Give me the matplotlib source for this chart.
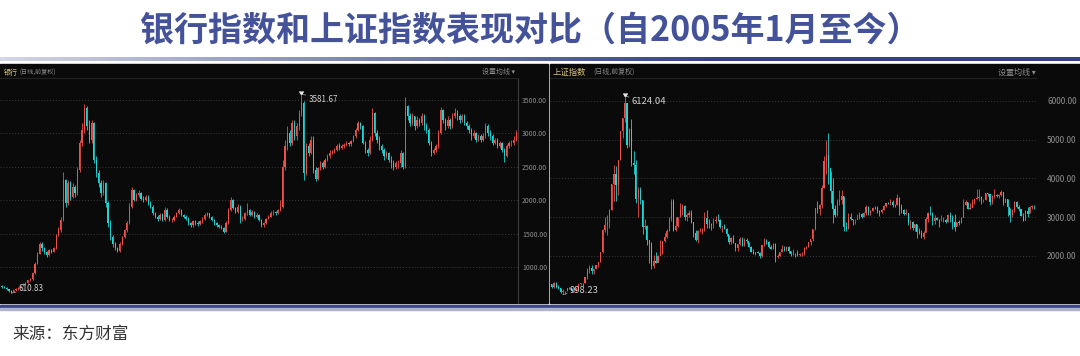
import numpy as np
import pandas as pd
import matplotlib
matplotlib.use('Agg')
import matplotlib.pyplot as plt
from matplotlib.patches import Rectangle
from matplotlib.lines import Line2D
from matplotlib.colors import LinearSegmentedColormap

plt.rcParams['font.family'] = ['Noto Sans CJK SC', 'DejaVu Sans']

# monthly candles, 2005-01 .. 2023-03
months = pd.date_range('2005-01', '2023-03', freq='MS')

# --- 银行 (bank index) ---
bank_first_open = 720
bank_close = [
    705, 690, 665, 640, 628, 650, 665, 690, 720, 740, 760, 800,
    820, 910, 1050, 1200, 1350, 1280, 1220, 1180, 1250, 1230, 1280, 1480,
    1550, 1700, 2300, 1950, 2250, 2050, 2200, 2100, 2450, 2850, 3050, 3380,
    3100, 2900, 3150, 2600, 2400, 2250, 2100, 2250, 1950, 1650, 1450, 1350,
    1280, 1240, 1350, 1450, 1550, 1650, 1900, 2150, 2000, 2080, 2100, 2020,
    2000, 2050, 1950, 1900, 1800, 1750, 1720, 1780, 1700, 1850, 1750, 1700,
    1700, 1750, 1800, 1850, 1780, 1750, 1720, 1650, 1620, 1680, 1650, 1640,
    1680, 1720, 1780, 1800, 1750, 1700, 1650, 1620, 1600, 1580, 1530, 1650,
    1850, 2000, 1880, 1820, 1900, 1700, 1720, 1800, 1850, 1780, 1820, 1750,
    1780, 1700, 1620, 1650, 1720, 1750, 1800, 1820, 1800, 1850, 1900, 2500,
    2800, 3000, 2850, 3150, 2950, 3100, 3300, 3450, 2400, 2800, 2700, 2900,
    2450, 2320, 2480, 2550, 2500, 2600, 2650, 2700, 2720, 2750, 2800, 2780,
    2800, 2820, 2850, 2830, 2880, 2950, 3050, 3150, 3100, 2850, 2750, 2700,
    2900, 3300, 3000, 2900, 2800, 2750, 2650, 2700, 2600, 2550, 2500, 2550,
    2550, 2700, 2500, 3400, 3250, 3150, 3250, 3100, 3200, 3150, 3250, 3100,
    3050, 2850, 2700, 2750, 2800, 3000, 3350, 3200, 3100, 3200, 3100, 3250,
    3300, 3250, 3200, 3250, 3150, 3100, 3050, 2950, 3000, 2900, 2950, 2900,
    2950, 3100, 3000, 2950, 2850, 2900, 2800, 2850, 2750, 2650, 2800, 2850,
    2850, 2900, 3000,
]
bank_high = [
    735, 715, 700, 675, 650, 660, 680, 700, 735, 755, 770, 810,
    840, 930, 1070, 1230, 1380, 1370, 1300, 1240, 1270, 1270, 1300, 1500,
    1600, 1750, 2420, 2320, 2300, 2280, 2250, 2230, 2500, 2900, 3150, 3430,
    3400, 3200, 3200, 3160, 2650, 2450, 2300, 2300, 2270, 1980, 1700, 1480,
    1370, 1300, 1370, 1470, 1570, 1680, 1950, 2200, 2160, 2100, 2150, 2120,
    2060, 2080, 2070, 1980, 1920, 1820, 1780, 1800, 1800, 1900, 1880, 1770,
    1730, 1770, 1820, 1880, 1860, 1790, 1770, 1740, 1670, 1700, 1700, 1680,
    1700, 1750, 1800, 1820, 1810, 1760, 1710, 1670, 1640, 1620, 1590, 1680,
    1880, 2040, 2010, 1900, 1940, 1920, 1760, 1820, 1960, 1870, 1850, 1830,
    1800, 1790, 1710, 1670, 1730, 1770, 1830, 1850, 1840, 1870, 2000, 2600,
    2900, 3100, 3050, 3200, 3200, 3150, 3350, 3581.67, 3480, 2850, 2850, 2950,
    2950, 2500, 2500, 2580, 2580, 2620, 2680, 2740, 2750, 2780, 2830, 2850,
    2830, 2850, 2880, 2870, 2900, 2970, 3080, 3180, 3170, 3120, 2880, 2780,
    2950, 3370, 3320, 3050, 2950, 2830, 2780, 2730, 2720, 2650, 2600, 2580,
    2600, 2750, 2720, 3540, 3420, 3300, 3300, 3260, 3250, 3230, 3300, 3280,
    3150, 3080, 2880, 2780, 2830, 3050, 3390, 3360, 3230, 3250, 3230, 3300,
    3380, 3350, 3290, 3280, 3280, 3180, 3130, 3080, 3050, 3020, 2980, 2990,
    3000, 3150, 3130, 3050, 2980, 2930, 2920, 2880, 2870, 2780, 2830, 2880,
    2900, 2950, 3050,
]
bank_low = [
    690, 680, 655, 630, 610.83, 620, 640, 660, 685, 710, 730, 755,
    790, 810, 900, 1040, 1190, 1240, 1200, 1150, 1170, 1210, 1220, 1270,
    1460, 1520, 1680, 1900, 1930, 2000, 2030, 2050, 2080, 2420, 2800, 3000,
    3050, 2850, 2850, 2550, 2350, 2200, 2050, 2080, 1900, 1600, 1400, 1300,
    1250, 1224, 1230, 1330, 1430, 1530, 1640, 1880, 1980, 1980, 2050, 2000,
    1970, 1980, 1930, 1880, 1780, 1730, 1690, 1700, 1680, 1690, 1730, 1680,
    1670, 1690, 1740, 1790, 1760, 1730, 1700, 1630, 1590, 1600, 1630, 1610,
    1620, 1660, 1700, 1760, 1730, 1680, 1630, 1600, 1580, 1560, 1510, 1520,
    1640, 1830, 1860, 1800, 1800, 1650, 1680, 1700, 1780, 1760, 1760, 1730,
    1730, 1690, 1600, 1600, 1640, 1710, 1740, 1780, 1780, 1790, 1830, 1880,
    2450, 2750, 2800, 2820, 2900, 2900, 3050, 3250, 2300, 2380, 2650, 2680,
    2400, 2280, 2300, 2450, 2470, 2480, 2580, 2630, 2680, 2700, 2730, 2750,
    2760, 2780, 2800, 2800, 2800, 2860, 2930, 3030, 3060, 2830, 2700, 2650,
    2680, 2880, 2950, 2850, 2750, 2700, 2600, 2620, 2560, 2480, 2450, 2460,
    2480, 2500, 2460, 2480, 3200, 3100, 3120, 3050, 3080, 3100, 3120, 3050,
    3000, 2820, 2650, 2680, 2720, 2780, 2980, 3150, 3050, 3080, 3060, 3080,
    3220, 3200, 3150, 3170, 3120, 3060, 3000, 2900, 2920, 2870, 2880, 2870,
    2880, 2920, 2950, 2900, 2820, 2830, 2780, 2770, 2720, 2570, 2640, 2780,
    2800, 2820, 2880,
]

# --- 上证指数 (SSE composite) ---
sh_first_open = 1266
sh_close = [
    1191, 1306, 1181, 1159, 1060, 1080, 1083, 1162, 1155, 1092, 1099, 1161,
    1258, 1299, 1298, 1440, 1641, 1672, 1612, 1658, 1752, 1837, 2099, 2675,
    2786, 2881, 3183, 3841, 4109, 3820, 4471, 5218, 5552, 5954, 4871, 5262,
    4383, 4348, 3473, 3693, 3433, 2736, 2775, 2397, 2293, 1729, 1871, 1821,
    1991, 2082, 2373, 2477, 2633, 2959, 3412, 2667, 2779, 2996, 3195, 3277,
    2989, 3051, 3110, 2871, 2592, 2398, 2638, 2639, 2656, 2979, 2820, 2808,
    2790, 2905, 2928, 2911, 2743, 2762, 2701, 2568, 2359, 2468, 2333, 2199,
    2292, 2428, 2263, 2397, 2373, 2225, 2103, 2047, 2086, 2069, 1980, 2269,
    2385, 2366, 2237, 2178, 2301, 1979, 1994, 2098, 2175, 2141, 2221, 2116,
    2033, 2056, 2033, 2026, 2039, 2048, 2202, 2217, 2364, 2420, 2683, 3235,
    3210, 3310, 3748, 4442, 4612, 4277, 3664, 3206, 3053, 3383, 3446, 3539,
    2738, 2688, 3004, 2938, 2917, 2930, 2979, 3085, 3005, 3100, 3250, 3104,
    3159, 3242, 3223, 3155, 3117, 3192, 3273, 3361, 3349, 3393, 3317, 3307,
    3481, 3259, 3169, 3082, 3095, 2847, 2876, 2725, 2821, 2603, 2588, 2494,
    2585, 2941, 3091, 3078, 2899, 2979, 2933, 2886, 2905, 2929, 2871, 3050,
    2977, 2880, 2750, 2860, 2852, 2985, 3310, 3396, 3218, 3225, 3392, 3473,
    3483, 3509, 3442, 3447, 3615, 3591, 3397, 3544, 3568, 3547, 3564, 3640,
    3361, 3463, 3253, 3047, 3186, 3399, 3253, 3202, 3024, 2893, 3151, 3089,
    3255, 3280, 3273,
]
sh_high = [
    1268, 1329, 1316, 1233, 1163, 1146, 1095, 1171, 1182, 1157, 1100, 1172,
    1258, 1306, 1303, 1445, 1686, 1757, 1757, 1662, 1764, 1842, 2105, 2698,
    2994, 3049, 3209, 3850, 4335, 4312, 4472, 5219, 5552, 6124.04, 5950, 5303,
    5523, 4695, 4472, 3787, 3786, 3434, 2953, 2800, 2333, 2367, 2030, 2100,
    2006, 2402, 2390, 2579, 2688, 3000, 3454, 3478, 2997, 3000, 3361, 3338,
    3306, 3105, 3182, 3181, 2881, 2668, 2659, 2711, 2706, 3134, 3186, 2950,
    2853, 2966, 3016, 3067, 2943, 2777, 2827, 2716, 2545, 2479, 2536, 2341,
    2301, 2479, 2478, 2453, 2461, 2346, 2248, 2161, 2105, 2132, 2094, 2276,
    2445, 2444, 2368, 2270, 2334, 2334, 2051, 2100, 2270, 2243, 2245, 2259,
    2134, 2177, 2079, 2146, 2060, 2087, 2222, 2248, 2364, 2418, 2683, 3239,
    3406, 3341, 3835, 4572, 4986, 5178, 4184, 4006, 3300, 3457, 3685, 3685,
    3539, 2871, 3091, 3097, 2944, 2953, 3079, 3140, 3102, 3118, 3301, 3287,
    3174, 3261, 3297, 3295, 3175, 3202, 3301, 3362, 3392, 3465, 3450, 3327,
    3587, 3524, 3334, 3219, 3219, 3106, 2915, 2886, 2827, 2832, 2716, 2658,
    2630, 2995, 3129, 3288, 3120, 3051, 2999, 2953, 3047, 2994, 2947, 3069,
    3127, 3058, 3074, 2866, 2935, 3001, 3458, 3452, 3397, 3367, 3458, 3474,
    3731, 3731, 3531, 3476, 3625, 3628, 3601, 3581, 3723, 3601, 3589, 3708,
    3652, 3501, 3466, 3228, 3195, 3425, 3425, 3298, 3211, 3101, 3183, 3249,
    3289, 3312, 3313,
]
sh_low = [
    1178, 1177, 1166, 1134, 1041, 998.23, 1004, 1082, 1143, 1067, 1074, 1098,
    1163, 1240, 1230, 1295, 1402, 1541, 1534, 1534, 1657, 1720, 1838, 2072,
    2617, 2541, 2723, 3192, 3404, 3404, 3563, 4478, 5033, 5462, 4778, 4812,
    4330, 4123, 3357, 2990, 3333, 2567, 2690, 2284, 1802, 1664, 1679, 1814,
    1844, 2037, 2038, 2353, 2461, 2635, 2896, 2640, 2639, 2751, 2990, 3040,
    2930, 2890, 2991, 2835, 2481, 2382, 2319, 2605, 2573, 2640, 2708, 2721,
    2661, 2704, 2851, 2904, 2717, 2610, 2686, 2505, 2307, 2307, 2320, 2134,
    2133, 2272, 2242, 2262, 2318, 2222, 2103, 2039, 2008, 2058, 1949, 1959,
    2250, 2298, 2210, 2161, 2164, 1849, 1951, 1991, 2083, 2121, 2123, 2080,
    1985, 2025, 1974, 1997, 1991, 1996, 2026, 2183, 2222, 2287, 2383, 2674,
    3095, 3049, 3230, 3749, 4099, 3847, 3373, 2850, 3002, 3030, 3323, 3327,
    2638, 2638, 2693, 2925, 2781, 2807, 2945, 2954, 2969, 3000, 3057, 3056,
    3044, 3144, 3201, 3111, 3016, 3092, 3176, 3247, 3342, 3317, 3250, 3255,
    3314, 3062, 3092, 3041, 3041, 2782, 2691, 2653, 2644, 2449, 2555, 2463,
    2440, 2613, 2883, 3040, 2802, 2826, 2920, 2733, 2900, 2868, 2857, 2874,
    2877, 2685, 2646, 2773, 2800, 2839, 3029, 3302, 3202, 3215, 3258, 3326,
    3465, 3420, 3328, 3383, 3427, 3533, 3312, 3343, 3485, 3515, 3491, 3548,
    3302, 3400, 3023, 2863, 2992, 3126, 3227, 3155, 3020, 2885, 2924, 3009,
    3091, 3215, 3197,
]

bank_ticks = [1000, 1500, 2000, 2500, 3000, 3500]
sh_ticks = [2000, 3000, 4000, 5000, 6000]

title = '银行指数和上证指数表现对比（自2005年1月至今）'
source = '来源：东方财富'

RED = '#f0504a'
CYAN = '#1fd6d6'
PANEL = '#0a0a0a'
NAVY = '#44529a'

W, H = 1080, 356
fig = plt.figure(figsize=(W / 100, H / 100), dpi=100)
fig.patch.set_facecolor('white')


def box(x0, y0, x1, y1):
    return [x0 / W, 1 - y1 / H, (x1 - x0) / W, (y1 - y0) / H]


def fx(x):
    return x / W


def fy(y):
    return 1 - y / H


# panel backgrounds
for x0, x1 in [(0, 548), (550, 1080)]:
    fig.add_artist(Rectangle((fx(x0), fy(303)), (x1 - x0) / W, (303 - 64) / H,
                             transform=fig.transFigure, color=PANEL, zorder=0))

# title + gradient underline
fig.text(0.491, fy(30), title, ha='center', va='center', fontsize=24.5,
         color=NAVY, fontweight='bold')
cmap = LinearSegmentedColormap.from_list('g', ['#d4d7e2', '#7b85b0', '#34408a', '#34408a'])
gax = fig.add_axes(box(0, 57, 1080, 61))
gax.imshow(np.linspace(0, 1, 256)[None, :], aspect='auto', cmap=cmap)
gax.axis('off')

# bottom rule
fig.add_artist(Rectangle((0, fy(308)), 1, 3 / H, transform=fig.transFigure,
                         color='#3a4688', zorder=1))
fig.add_artist(Rectangle((0, fy(310)), 1, 2 / H, transform=fig.transFigure,
                         color='#aeb4cc', zorder=1))

fig.text(fx(12), fy(334), source, ha='left', va='center', fontsize=12, color='#333333')


def candles(ax, first_open, closes, highs, lows):
    closes = np.asarray(closes, float)
    opens = np.r_[first_open, closes[:-1]]
    x = np.arange(len(closes))
    colors = np.where(closes >= opens, RED, CYAN)
    ax.vlines(x, lows, highs, colors=colors, linewidth=0.6, zorder=3)
    ax.bar(x, np.abs(closes - opens), bottom=np.minimum(opens, closes),
           width=0.5, color=colors, linewidth=0, zorder=3)


def panel(rect, first_open, closes, highs, lows, ylim, ticks, fsize, pad):
    ax = fig.add_axes(rect)
    ax.set_facecolor('none')
    candles(ax, first_open, closes, highs, lows)
    ax.set_xlim(-0.8, len(closes) - 0.2)
    ax.set_ylim(*ylim)
    ax.set_xticks([])
    ax.yaxis.tick_right()
    ax.set_yticks(ticks)
    ax.set_yticklabels([f'{t:.2f}' for t in ticks])
    ax.tick_params(axis='y', length=0, pad=pad, labelsize=fsize, labelcolor='#8e8e8e')
    ax.grid(axis='y', color='#3a3a3a', linestyle=(0, (1, 2)), linewidth=0.7)
    for s in ax.spines.values():
        s.set_visible(False)
    ih, il = int(np.argmax(highs)), int(np.argmin(lows))
    for i, val, dy in [(ih, highs[ih], -4), (il, lows[il], 3)]:
        ax.annotate(f'{val:.2f}', xy=(i, val), xytext=(5, dy), textcoords='offset points',
                    ha='left', va='center', fontsize=fsize + 0.8, color='#d0d0d0',
                    arrowprops=dict(arrowstyle='-', color='#d0d0d0', linewidth=0.5,
                                    linestyle=(0, (1, 1)), shrinkA=0, shrinkB=0),
                    zorder=5)
    ax.plot([ih], [highs[ih]], marker=7, color='#e8e8e8', markersize=2.5, zorder=6)
    return ax


lax = panel(box(0, 79, 518, 303), bank_first_open, bank_close, bank_high, bank_low,
            (463, 3806), bank_ticks, 5, 3)
lax.spines['right'].set_visible(True)
lax.spines['right'].set_color('#3c3c3c')
lax.spines['right'].set_linewidth(0.8)

rax = panel(box(550, 79, 1036, 303), sh_first_open, sh_close, sh_high, sh_low,
            (778, 6566), sh_ticks, 6, 8)

# headers
for x0, x1 in [(0, 518), (550, 1036)]:
    fig.add_artist(Line2D([fx(x0), fx(x1)], [fy(78), fy(78)], color='#222222',
                          linewidth=0.8, transform=fig.transFigure))

fig.text(fx(4), fy(73), '银行', fontsize=5, color='#d8c27a', va='center')
fig.text(fx(20), fy(73), '(日线,前复权)', fontsize=4.4, color='#8a8a8a', va='center')
fig.text(fx(482), fy(72), '设置均线 ▾', fontsize=5, color='#8a8a8a', va='center')

fig.text(fx(553), fy(72), '上证指数', fontsize=6, color='#d8c27a', va='center')
fig.text(fx(593), fy(72), '(日线,前复权)', fontsize=5, color='#8a8a8a', va='center')
fig.text(fx(998), fy(72), '设置均线 ▾', fontsize=5.8, color='#8a8a8a', va='center')

fig.savefig('out.png', dpi=100, facecolor='white')
